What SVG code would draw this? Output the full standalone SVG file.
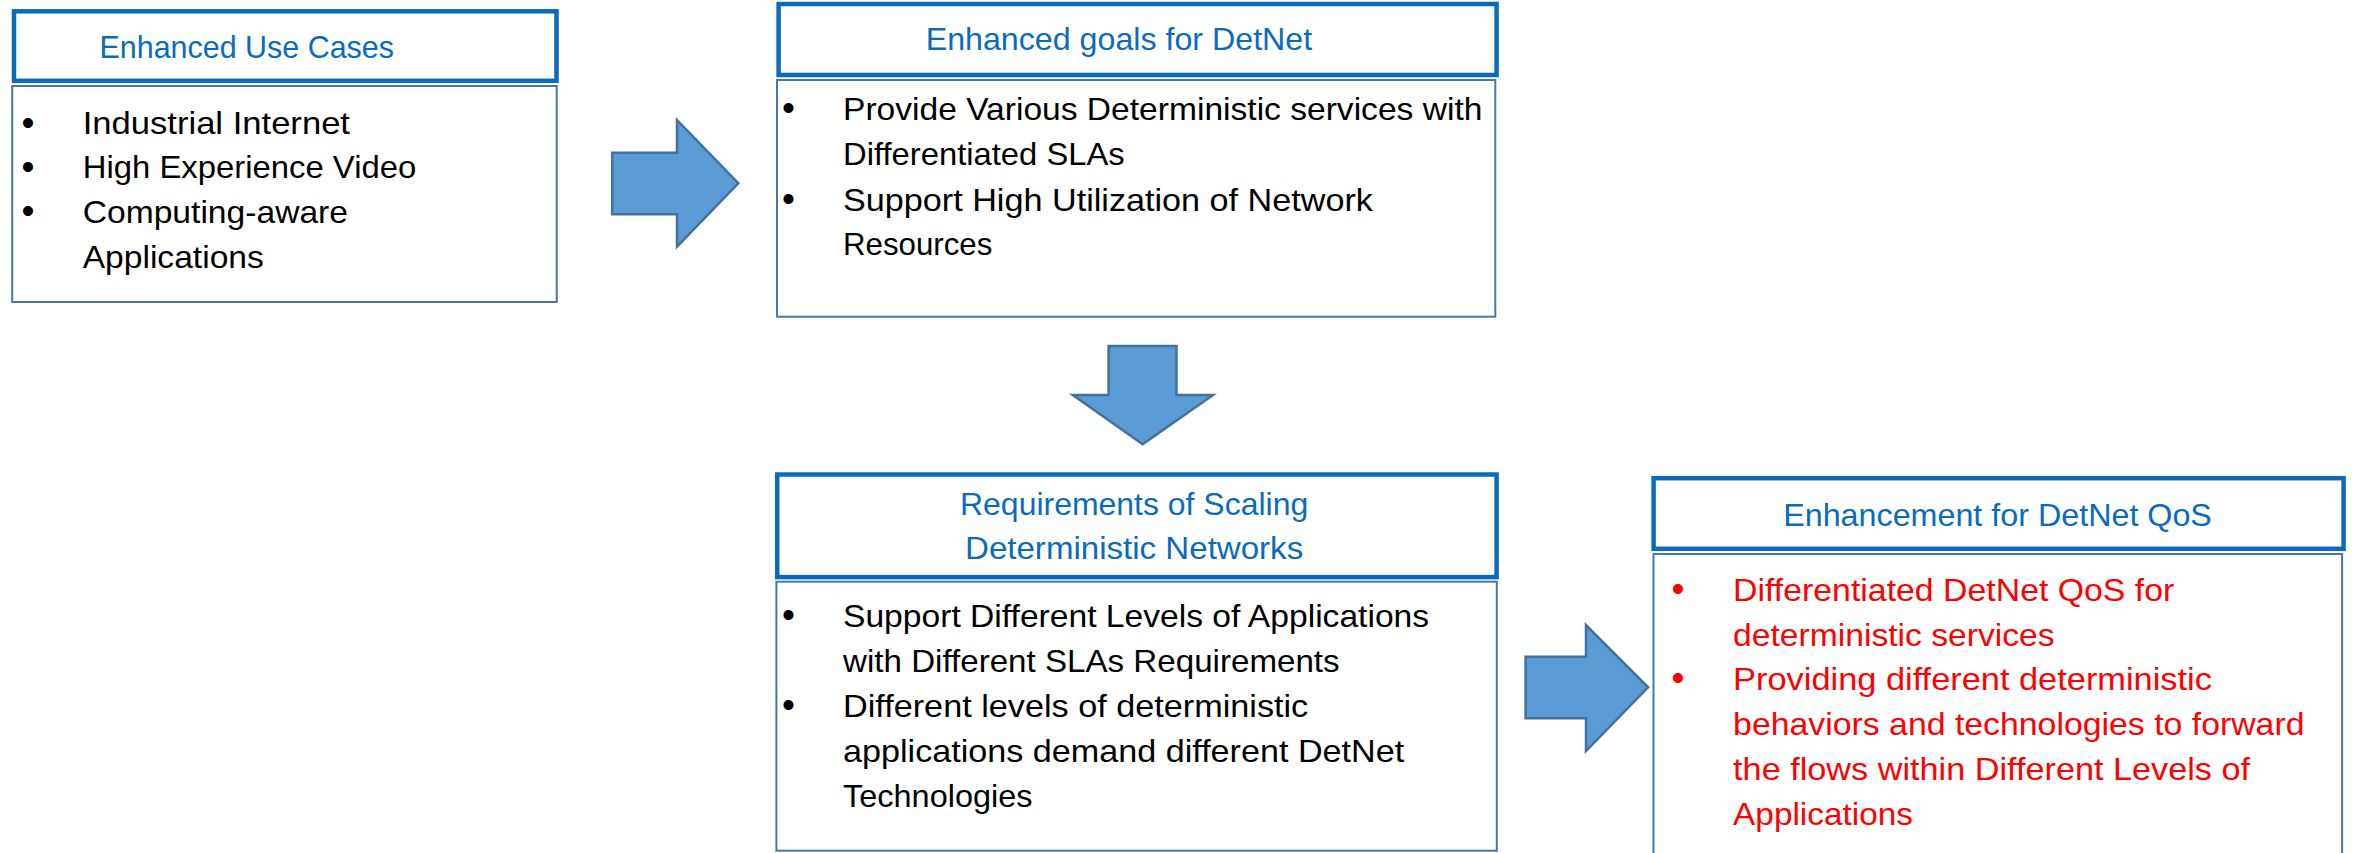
<svg xmlns="http://www.w3.org/2000/svg" width="2354" height="853" viewBox="0 0 2354 853">
<style>
.hdr{fill:#ffffff;stroke:#0A6BBE;stroke-width:4.5}
.body{fill:#ffffff;stroke:#4A76A6;stroke-width:2}
.ht{font-family:"Liberation Sans",Arial,sans-serif;font-size:32px;fill:#0A6BBE}
.bt{font-family:"Liberation Sans",Arial,sans-serif;font-size:32px;fill:#000000}
.rt{font-family:"Liberation Sans",Arial,sans-serif;font-size:32px;fill:#FF0000}
.bul{font-family:"Liberation Sans",Arial,sans-serif;font-size:37px;text-anchor:middle}
.arrow{fill:#5B9BD5;stroke:#41719C;stroke-width:2.5;stroke-linejoin:miter}
</style>
<rect width="2354" height="853" fill="#ffffff"/>
<g id="connectors">
<polygon class="arrow" points="612.2,152.7 677,152.7 677,120 738.3,183.3 677,246.7 677,214.3 612.2,214.3"/>
<polygon class="arrow" points="1108.6,346 1176.5,346 1176.5,395 1213,395 1142.7,444.3 1072.8,395 1108.6,395"/>
<polygon class="arrow" points="1525.6,656.7 1586,656.7 1586,625 1648.1,687.3 1586,751 1586,718.3 1525.6,718.3"/>
</g>
<g id="node-use-cases">
<rect class="body" x="12.2" y="86" width="544.5" height="216"/>
<rect class="hdr" x="14" y="11.3" width="542.5" height="69.5"/>
<text class="ht" x="99.5" y="58.3" textLength="294.5" lengthAdjust="spacingAndGlyphs">Enhanced Use Cases</text>
<text class="bul" x="28" y="134.5" fill="#000">•</text>
<text class="bt" x="82.7" y="134.3" textLength="267.3" lengthAdjust="spacingAndGlyphs">Industrial Internet</text>
<text class="bul" x="28" y="178.5" fill="#000">•</text>
<text class="bt" x="82.7" y="178.3" textLength="333.6" lengthAdjust="spacingAndGlyphs">High Experience Video</text>
<text class="bul" x="28" y="222.9" fill="#000">•</text>
<text class="bt" x="82.7" y="222.7" textLength="265.3" lengthAdjust="spacingAndGlyphs">Computing-aware</text>
<text class="bt" x="82.7" y="267.7" textLength="181.1" lengthAdjust="spacingAndGlyphs">Applications</text>
</g>
<g id="node-goals">
<rect class="body" x="777" y="80" width="718.3" height="236.7"/>
<rect class="hdr" x="778.6" y="4" width="718" height="71"/>
<text class="ht" x="925.7" y="50.3" textLength="386.5" lengthAdjust="spacingAndGlyphs">Enhanced goals for DetNet</text>
<text class="bul" x="788.4" y="120.2" fill="#000">•</text>
<text class="bt" x="843" y="120" textLength="639.4" lengthAdjust="spacingAndGlyphs">Provide Various Deterministic services with</text>
<text class="bt" x="843" y="165" textLength="281.7" lengthAdjust="spacingAndGlyphs">Differentiated SLAs</text>
<text class="bul" x="788.4" y="210.9" fill="#000">•</text>
<text class="bt" x="843" y="210.7" textLength="529.9" lengthAdjust="spacingAndGlyphs">Support High Utilization of Network</text>
<text class="bt" x="843" y="255" textLength="149.3" lengthAdjust="spacingAndGlyphs">Resources</text>
</g>
<g id="node-requirements">
<rect class="body" x="776.4" y="581.7" width="720.4" height="269"/>
<rect class="hdr" x="777.2" y="474.5" width="719.4" height="102.6"/>
<text class="ht" x="960" y="515" textLength="348.2" lengthAdjust="spacingAndGlyphs">Requirements of Scaling</text>
<text class="ht" x="965" y="559.3" textLength="338.2" lengthAdjust="spacingAndGlyphs">Deterministic Networks</text>
<text class="bul" x="788.4" y="626.9" fill="#000">•</text>
<text class="bt" x="843" y="626.7" textLength="586.1" lengthAdjust="spacingAndGlyphs">Support Different Levels of Applications</text>
<text class="bt" x="843" y="671.7" textLength="496.6" lengthAdjust="spacingAndGlyphs">with Different SLAs Requirements</text>
<text class="bul" x="788.4" y="716.9" fill="#000">•</text>
<text class="bt" x="843" y="716.7" textLength="465.2" lengthAdjust="spacingAndGlyphs">Different levels of deterministic</text>
<text class="bt" x="843" y="762.3" textLength="561.2" lengthAdjust="spacingAndGlyphs">applications demand different DetNet</text>
<text class="bt" x="843" y="807.3" textLength="189.6" lengthAdjust="spacingAndGlyphs">Technologies</text>
</g>
<g id="node-enhancement-qos">
<rect class="body" x="1653.5" y="554" width="688.6" height="320"/>
<rect class="hdr" x="1653.6" y="478.2" width="690" height="70.6"/>
<text class="ht" x="1783.2" y="526" textLength="428.7" lengthAdjust="spacingAndGlyphs">Enhancement for DetNet QoS</text>
<text class="bul" x="1678" y="601.2" fill="#FF0000">•</text>
<text class="rt" x="1733.1" y="601" textLength="441.2" lengthAdjust="spacingAndGlyphs">Differentiated DetNet QoS for</text>
<text class="rt" x="1733.1" y="646" textLength="321.4" lengthAdjust="spacingAndGlyphs">deterministic services</text>
<text class="bul" x="1678" y="690.2" fill="#FF0000">•</text>
<text class="rt" x="1733.1" y="690" textLength="478.8" lengthAdjust="spacingAndGlyphs">Providing different deterministic</text>
<text class="rt" x="1733.1" y="735" textLength="571.4" lengthAdjust="spacingAndGlyphs">behaviors and technologies to forward</text>
<text class="rt" x="1733.1" y="780" textLength="516.9" lengthAdjust="spacingAndGlyphs">the flows within Different Levels of</text>
<text class="rt" x="1733.1" y="825" textLength="179.8" lengthAdjust="spacingAndGlyphs">Applications</text>
</g>
</svg>
